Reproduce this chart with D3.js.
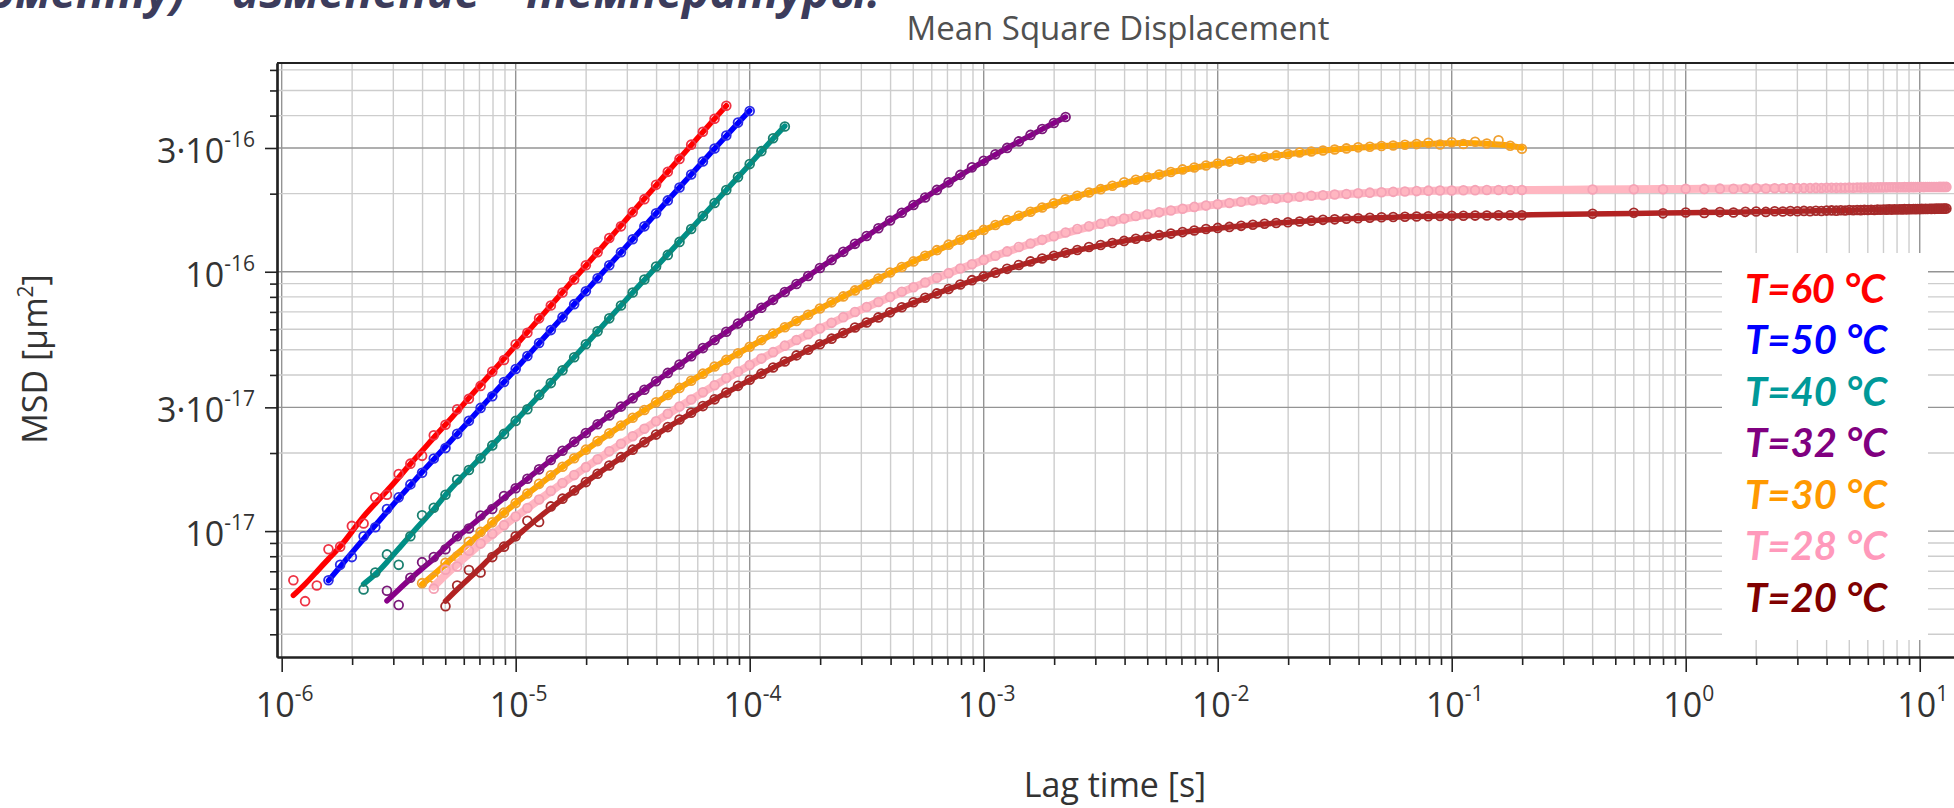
<!DOCTYPE html>
<html>
<head>
<meta charset="utf-8">
<script src="https://cdn.jsdelivr.net/npm/d3@7"></script>
<style>
  html, body { margin: 0; padding: 0; background: #ffffff; overflow: hidden; }
  svg { display: block; }
</style>
</head>
<body>
<svg id="chart" width="1954" height="808"></svg>
<script>
// ---------------------------------------------------------------
// Data: mean square displacement vs lag time at seven temperatures
// MSD values are stored in units of 1e-18 µm²
// ---------------------------------------------------------------
const msdUnit = 1e-18;

// correlator lag times (s), short-time part
const lagTimes = [
  1.122e-6,1.259e-6,1.413e-6,1.585e-6,1.778e-6,1.995e-6,2.239e-6,2.512e-6,2.818e-6,3.162e-6,
  3.548e-6,3.981e-6,4.467e-6,5.012e-6,5.623e-6,6.310e-6,7.079e-6,7.943e-6,8.913e-6,
  1.000e-5,1.122e-5,1.259e-5,1.413e-5,1.585e-5,1.778e-5,1.995e-5,2.239e-5,2.512e-5,2.818e-5,
  3.162e-5,3.548e-5,3.981e-5,4.467e-5,5.012e-5,5.623e-5,6.310e-5,7.079e-5,7.943e-5,8.913e-5,
  1.000e-4,1.122e-4,1.259e-4,1.413e-4,1.585e-4,1.778e-4,1.995e-4,2.239e-4,2.512e-4,2.818e-4,
  3.162e-4,3.548e-4,3.981e-4,4.467e-4,5.012e-4,5.623e-4,6.310e-4,7.079e-4,7.943e-4,8.913e-4,
  1.000e-3,1.122e-3,1.259e-3,1.413e-3,1.585e-3,1.778e-3,1.995e-3,2.239e-3,2.512e-3,2.818e-3,
  3.162e-3,3.548e-3,3.981e-3,4.467e-3,5.012e-3,5.623e-3,6.310e-3,7.079e-3,7.943e-3,8.913e-3,
  1.000e-2,1.122e-2,1.259e-2,1.413e-2,1.585e-2,1.778e-2,1.995e-2,2.239e-2,2.512e-2,2.818e-2,
  3.162e-2,3.548e-2,3.981e-2,4.467e-2,5.012e-2,5.623e-2,6.310e-2,7.079e-2,7.943e-2,8.913e-2,
  0.1000,0.1122,0.1259,0.1413,0.1585,0.1778,0.1995
];

// long-time acquisition lag times (s)
const longLagTimes = [
  0.4,0.6,0.8,1.0,1.2,1.4,1.6,1.8,2.0,2.2,2.4,2.6,2.8,3.0,3.2,3.4,3.6,3.8,4.0,4.2,
  4.4,4.6,4.8,5.0,5.2,5.4,5.6,5.8,6.0,6.2,6.4,6.6,6.8,7.0,7.2,7.4,7.6,7.8,8.0,8.2,
  8.4,8.6,8.8,9.0,9.2,9.4,9.6,9.8,10.0,10.2,10.4,10.6,10.8,11.0,11.2,11.4,11.6,11.8,12.0,12.2,
  12.4,12.6,12.8,13.0
];

const seriesNames = ["T=60 °C", "T=50 °C", "T=40 °C", "T=32 °C", "T=30 °C", "T=28 °C", "T=20 °C"];

// index of the first lag time recorded for each series
const seriesFirstLag = [0, 3, 6, 8, 11, 12, 13];

const msd60 = [6.46,5.37,6.17,8.51,8.71,10.47,10.7,13.5,13.8,16.6,18.2,19.5,23.4,25.7,29.5,32.4,36.3,41.2,45.7,52.5,
  58.2,66.1,74.1,83.2,93.3,105.9,118.9,134.9,149.6,169.8,190.5,216.3,242.7,272.3,309.0,346.7,389.0,436.5];

const msd50 = [6.46,7.41,7.94,9.55,10.35,12.16,13.49,15.14,16.79,19.05,20.89,23.71,26.61,29.85,33.11,37.58,42.17,47.32,
  53.09,59.57,66.83,74.99,84.14,94.41,105.9,118.9,133.4,149.6,167.9,188.4,211.3,237.1,266.1,298.5,335.0,375.8,416.9];

const msd40 = [5.96,6.92,8.13,7.41,9.55,11.5,12.3,13.8,15.8,17.2,19.1,21.4,23.7,26.6,29.5,33.5,37.2,41.7,46.8,52.5,
  58.9,66.1,74.1,83.2,93.3,104.7,116.1,130.3,146.2,164.1,184.1,206.5,231.7,260.0,291.7,327.3,363.1];

const msd32 = [5.89,5.19,6.61,7.59,7.94,8.51,9.55,10.23,11.48,12.16,13.65,14.62,15.92,17.30,18.79,20.42,22.08,23.88,
  25.82,27.93,30.20,32.55,35.08,37.80,40.74,43.90,47.21,50.77,54.58,58.69,63.10,67.68,72.61,77.91,83.56,89.66,96.27,
  103.4,111.1,119.3,128.1,137.3,147.1,157.6,168.9,180.9,193.4,206.8,221.1,236.3,252.6,267.6,283.5,300.3,318.1,337.0,
  355.3,374.6,395.0];

const msd30 = [6.30,6.60,7.55,8.00,9.10,9.93,10.81,11.78,12.82,13.96,15.21,16.41,17.70,19.10,20.61,22.23,23.82,25.53,
  27.35,29.31,31.41,33.46,35.65,37.97,40.46,43.11,45.71,48.47,51.40,54.52,57.81,61.09,64.57,68.23,72.11,76.21,80.35,
  84.72,89.33,94.19,99.31,104.3,109.6,115.2,121.1,127.2,132.9,138.8,145.0,151.5,158.3,164.3,170.4,176.8,183.5,190.4,
  196.2,202.2,208.2,214.6,221.1,226.2,231.5,236.9,242.4,248.1,252.3,256.7,261.2,265.8,270.4,273.8,277.3,280.9,284.4,
  288.1,290.8,293.4,296.2,298.9,301.7,303.4,305.2,306.9,308.7,310.5,314.0,309.5,315.5,311.0,317.0,312.0,321.0,306.0,298.0];

const msd28 = [6.0,7.1,7.3,8.4,8.95,9.77,10.54,11.38,12.27,13.24,14.29,15.33,16.44,17.64,18.92,20.30,21.70,23.20,24.80,
  26.52,28.35,30.20,32.18,34.28,36.52,38.90,41.21,43.65,46.24,48.98,51.88,54.58,57.41,60.39,63.53,66.83,69.90,73.11,
  76.47,79.98,83.65,87.19,90.89,94.73,98.74,102.9,106.9,111.1,115.3,119.8,124.5,128.5,132.7,137.1,141.6,146.2,149.6,
  153.1,156.7,160.3,164.1,166.7,169.4,172.2,175.0,177.8,179.9,182.0,184.1,186.2,188.4,189.9,191.4,193.0,194.5,196.2,
  197.2,198.4,199.5,200.7,201.8,202.5,203.2,203.9,204.6,205.4,205.6,205.8,206.1,206.3,206.5,206.5,206.5,206.5];

const msd20 = [5.13,6.17,7.08,6.92,7.94,8.71,9.55,10.96,10.84,12.45,13.34,14.35,15.45,16.63,17.91,19.28,20.61,22.03,
  23.55,25.18,26.92,28.58,30.34,32.21,34.20,36.31,38.33,40.46,42.71,45.08,47.59,50.00,52.54,55.21,58.01,60.95,63.75,
  66.68,69.74,72.94,76.30,79.34,82.51,85.81,89.24,92.81,95.94,99.20,102.6,106.1,109.6,112.5,115.3,118.3,121.3,124.5,
  126.8,129.1,131.5,134.0,136.5,138.4,140.3,142.2,144.2,146.2,147.6,148.9,150.3,151.7,153.1,154.2,155.2,156.3,157.4,
  158.5,159.2,160.0,160.7,161.4,162.2,162.6,162.9,163.3,163.7,164.1,164.3,164.4,164.6,164.8,165.0,165.2,165.2];

const msd28Long = [207.4,208.1,208.0,208.7,208.6,209.1,209.0,209.4,209.7,209.5,209.9,209.8,210.1,210.0,210.3,210.2,
  210.5,210.4,210.7,210.8,210.6,210.9,210.8,211.1,210.9,211.2,211.1,211.3,211.2,211.4,211.3,211.5,211.4,211.6,211.5,
  211.7,211.6,211.8,211.7,211.8,211.7,211.9,211.8,212.0,211.9,212.0,211.9,212.1,212.0,212.1,212.0,212.2,212.1,212.2,
  212.1,212.3,212.2,212.3,212.2,212.4,212.3,212.4,212.3,212.4];

const msd20Long = [167.3,168.9,167.9,169.2,168.6,169.8,169.3,170.2,170.6,170.1,171.0,170.7,171.3,171.0,171.6,171.2,
  171.9,171.5,172.1,172.4,172.0,172.6,172.3,172.9,172.6,173.1,172.8,173.2,173.0,173.4,173.1,173.6,173.3,173.7,173.5,
  173.9,173.6,174.0,173.8,174.1,173.9,174.3,174.0,174.4,174.2,174.5,174.3,174.6,174.4,174.7,174.5,174.8,174.6,174.9,
  174.7,175.0,174.8,175.1,174.9,175.2,175.0,175.3,175.1,175.3];

const xTickExponents = ["-6", "-5", "-4", "-3", "-2", "-1", "0", "1"];
const yTickValues = [3e-16, 1e-16, 3e-17, 1e-17];
const yTickMantissas = ["3·", "", "3·", ""];
const yTickExponents = ["-16", "-16", "-17", "-17"];

// ---------------------------------------------------------------
// Styling
// ---------------------------------------------------------------
const lineColors   = ["#ff0000", "#0000ff", "#008f86", "#880088", "#ffa500", "#ffb6c1", "#b22222"];
const markerColors = ["#ee3344", "#2a2ae6", "#1a8070", "#7a1a7a", "#f0a030", "#f5a3b6", "#a52a2a"];
const legendColors = ["#ff0000", "#0000ff", "#009999", "#800080", "#ff9900", "#ff99bb", "#800000"];
const lineWidths   = [5.5, 5.5, 5.5, 5.5, 6, 8, 5.5];

const FONT = "'Open Sans', 'Noto Sans', 'DejaVu Sans', sans-serif";
const plot = { left: 277, top: 63, right: 1954, bottom: 657 };

const svg = d3.select("#chart");

const x = d3.scaleLog().domain([9.55e-7, 14.01]).range([plot.left, plot.right]);
const y = d3.scaleLog().domain([3.27e-18, 6.38e-16]).range([plot.bottom, plot.top]);

// ---- build series ----
const shortMsd = [msd60, msd50, msd40, msd32, msd30, msd28, msd20];
const longMsd  = [null, null, null, null, null, msd28Long, msd20Long];

const series = seriesNames.map((name, i) => {
  const pts = shortMsd[i].map((v, j) => ({ t: lagTimes[seriesFirstLag[i] + j], m: v * msdUnit }));
  if (longMsd[i]) longMsd[i].forEach((v, j) => pts.push({ t: longLagTimes[j], m: v * msdUnit }));
  return { name, pts, i };
});

// local linear fit in log-log space (the drawn fit curve)
function localFit(pts, half) {
  const lx = pts.map(p => Math.log10(p.t));
  const ly = pts.map(p => Math.log10(p.m));
  return pts.map((p, i) => {
    const a = Math.max(0, i - half), b = Math.min(pts.length - 1, i + half);
    let sx = 0, sy = 0, sxx = 0, sxy = 0, n = 0;
    for (let j = a; j <= b; j++) { sx += lx[j]; sy += ly[j]; sxx += lx[j] * lx[j]; sxy += lx[j] * ly[j]; n++; }
    const mx = sx / n, my = sy / n, vx = sxx / n - mx * mx;
    const slope = vx > 1e-12 ? (sxy / n - mx * my) / vx : 0;
    return { t: p.t, m: Math.pow(10, my + slope * (lx[i] - mx)) };
  });
}

// ---- gridlines ----
function logGridValues(domain, nFrom, nTo) {
  const out = [];
  for (let n = nFrom; n <= nTo; n++) {
    for (let k = 1; k <= 9; k++) {
      const v = k * Math.pow(10, n);
      if (v >= domain[0] && v <= domain[1]) out.push({ v, k });
    }
  }
  return out;
}
const xGrid = logGridValues(x.domain(), -7, 1);
const yGrid = logGridValues(y.domain(), -18, -16);
const yIsMajor = d => d.k === 1 || d.k === 3;

const grid = svg.append("g").attr("class", "grid");
grid.selectAll("line.gx").data(xGrid).join("line")
  .attr("x1", d => x(d.v)).attr("x2", d => x(d.v))
  .attr("y1", plot.top).attr("y2", plot.bottom)
  .attr("stroke", d => d.k === 1 ? "#949494" : "#cdcdcd")
  .attr("stroke-width", 1.4);
grid.selectAll("line.gy").data(yGrid).join("line")
  .attr("x1", plot.left).attr("x2", plot.right)
  .attr("y1", d => y(d.v)).attr("y2", d => y(d.v))
  .attr("stroke", d => yIsMajor(d) ? "#949494" : "#cdcdcd")
  .attr("stroke-width", 1.4);

// ---- legend box (drawn over the grid) ----
const legend = svg.append("g").attr("class", "legend");
legend.append("rect")
  .attr("x", 1722).attr("y", 253).attr("width", 206).attr("height", 387)
  .attr("fill", "#ffffff");

// ---- axes ----
const axisColor = "#222222";
const xMajor = xGrid.filter(d => d.k === 1).map(d => d.v);
const xMinor = xGrid.filter(d => d.k !== 1).map(d => d.v);
const yMajor = yGrid.filter(yIsMajor).map(d => d.v);
const yMinor = yGrid.filter(d => !yIsMajor(d)).map(d => d.v);

function styleAxis(g) {
  g.selectAll("text").remove();
  g.selectAll("line").attr("stroke", axisColor).attr("stroke-width", 1.6);
  g.select(".domain").attr("stroke", axisColor).attr("stroke-width", 2.2);
}

svg.append("g").attr("transform", `translate(0,${plot.bottom})`)
  .call(d3.axisBottom(x).tickValues(xMinor).tickSize(8).tickSizeOuter(0)).call(styleAxis);
svg.append("g").attr("transform", `translate(0,${plot.bottom})`)
  .call(d3.axisBottom(x).tickValues(xMajor).tickSize(15).tickSizeOuter(0)).call(styleAxis);
svg.append("g").attr("transform", `translate(${plot.left},0)`)
  .call(d3.axisLeft(y).tickValues(yMinor).tickSize(7).tickSizeOuter(0)).call(styleAxis);
svg.append("g").attr("transform", `translate(${plot.left},0)`)
  .call(d3.axisLeft(y).tickValues(yMajor).tickSize(12).tickSizeOuter(0)).call(styleAxis);

// top frame line
svg.append("line")
  .attr("x1", plot.left).attr("x2", plot.right)
  .attr("y1", plot.top).attr("y2", plot.top)
  .attr("stroke", axisColor).attr("stroke-width", 2.2);

// ---- tick labels ----
const labelColor = "#333333";
const xLabels = svg.append("g").attr("font-family", FONT).attr("fill", labelColor);
xMajor.forEach((v, i) => {
  const t = xLabels.append("text")
    .attr("x", x(v) + 3).attr("y", 717)
    .attr("text-anchor", "middle").attr("font-size", 34);
  t.append("tspan").text("10");
  t.append("tspan").attr("dy", -16).attr("font-size", 21).text(xTickExponents[i]);
});

const yLabels = svg.append("g").attr("font-family", FONT).attr("fill", labelColor);
yTickValues.forEach((v, i) => {
  const t = yLabels.append("text")
    .attr("x", 255).attr("y", y(v) + 15)
    .attr("text-anchor", "end").attr("font-size", 34);
  t.append("tspan").text(yTickMantissas[i] + "10");
  t.append("tspan").attr("dy", -16).attr("font-size", 21).text(yTickExponents[i]);
});

// ---- axis titles and chart title ----
svg.append("text")
  .attr("x", 1118).attr("y", 40)
  .attr("text-anchor", "middle").attr("font-family", FONT).attr("font-size", 33)
  .attr("fill", "#505050").text("Mean Square Displacement");

svg.append("text")
  .attr("x", 1115).attr("y", 797)
  .attr("text-anchor", "middle").attr("font-family", FONT).attr("font-size", 34)
  .attr("fill", labelColor).text("Lag time [s]");

const yTitle = svg.append("text")
  .attr("transform", "translate(47,359) rotate(-90)")
  .attr("text-anchor", "middle").attr("font-family", FONT).attr("font-size", 34)
  .attr("fill", labelColor);
yTitle.append("tspan").text("MSD [µm");
yTitle.append("tspan").attr("dy", -14).attr("font-size", 21).text("2");
yTitle.append("tspan").attr("dy", 14).text("]");

// heading text above the chart (runs off the top edge)
svg.append("text")
  .attr("x", 880).attr("y", 8)
  .attr("text-anchor", "end").attr("font-family", FONT)
  .attr("font-size", 46).attr("font-weight", 700).attr("font-style", "italic")
  .attr("fill", "#3c3c5c")
  .text("по моменту) – изменение – температуры.");

// ---- data: fit lines and markers ----
const line = d3.line().x(d => x(d.t)).y(d => y(d.m)).curve(d3.curveBasis);
const dataG = svg.append("g").attr("class", "series");

series.forEach(s => {
  const g = dataG.append("g");
  g.append("path")
    .attr("d", line(localFit(s.pts, 3)))
    .attr("fill", "none")
    .attr("stroke", lineColors[s.i])
    .attr("stroke-width", lineWidths[s.i])
    .attr("stroke-linecap", "round")
    .attr("stroke-linejoin", "round");
  g.selectAll("circle").data(s.pts).join("circle")
    .attr("cx", d => x(d.t)).attr("cy", d => y(d.m))
    .attr("r", 4.4)
    .attr("fill", "none")
    .attr("stroke", markerColors[s.i])
    .attr("stroke-width", 1.8);
});

// ---- legend entries ----
seriesNames.forEach((name, i) => {
  legend.append("text")
    .attr("x", 1745).attr("y", 303 + i * 51.45)
    .attr("font-family", "Lato, 'Open Sans', sans-serif")
    .attr("font-size", 40).attr("font-weight", 700).attr("font-style", "italic")
    .attr("fill", legendColors[i])
    .text(name);
});
</script>
</body>
</html>
